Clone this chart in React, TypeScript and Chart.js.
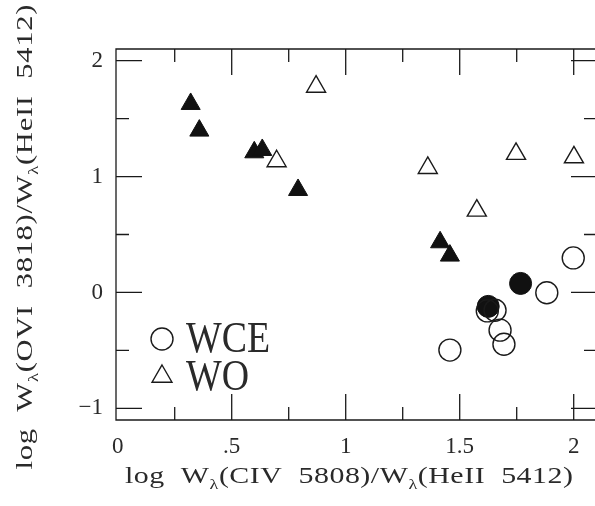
import React, { useEffect, useRef } from 'react';
import { Chart, registerables } from 'chart.js';

Chart.register(...registerables);

// WO stars, filled symbols
const woFilledX = [0.320, 0.358, 0.599, 0.634, 0.791, 1.414, 1.457];
const woFilledY = [1.626, 1.396, 1.209, 1.229, 0.884, 0.433, 0.318];

// WO stars, open symbols
const woOpenX = [0.870, 0.697, 1.360, 1.747, 2.001, 1.575];
const woOpenY = [1.775, 1.132, 1.074, 1.195, 1.166, 0.706];

// WCE stars, open symbols
const wceOpenX = [1.998, 1.882, 1.457, 1.621, 1.655, 1.677, 1.694];
const wceOpenY = [0.298, -0.003, -0.497, -0.159, -0.153, -0.325, -0.446];

// WCE stars, filled symbols
const wceFilledX = [1.625, 1.767];
const wceFilledY = [-0.120, 0.078];

// Axis ticks and their labels
const xMajorTicks = [0, 0.5, 1, 1.5, 2];
const xTickLabels = ['0', '.5', '1', '1.5', '2'];
const xMinorTicks = [0.25, 0.75, 1.25, 1.75];
const yMajorTicks = [-1, 0, 1, 2];
const yTickLabels = ['\u22121', '0', '1', '2'];
const yMinorTicks = [-0.5, 0.5, 1.5];

const xTitleParts = [
  { t: 'log  W', sub: false },
  { t: '\u03bb', sub: true },
  { t: '(CIV  5808)/W', sub: false },
  { t: '\u03bb', sub: true },
  { t: '(HeII  5412)', sub: false },
];
const yTitleParts = [
  { t: 'log  W', sub: false },
  { t: '\u03bb', sub: true },
  { t: '(OVI  3818)/W', sub: false },
  { t: '\u03bb', sub: true },
  { t: '(HeII  5412)', sub: false },
];

const legendItems = [
  { label: 'WCE', shape: 'circle' },
  { label: 'WO', shape: 'triangle' },
];

const FONT = '"Liberation Serif", "Times New Roman", serif';
const INK = '#1a1a1a';
const TEXT = '#2a2a2a';

const toPoints = (xs: number[], ys: number[]) => xs.map((x, i) => ({ x, y: ys[i] }));

// Draws a string glyph by glyph, widened horizontally and spread over a given width.
function drawSpaced(
  ctx: CanvasRenderingContext2D,
  parts: { t: string; sub: boolean }[],
  cx: number,
  baseline: number,
  width: number,
  size: number,
  stretch: number
) {
  const glyphs: { ch: string; sub: boolean; w: number }[] = [];
  const mainFont = `${size}px ${FONT}`;
  const subFont = `${Math.round(size * 0.6)}px ${FONT}`;
  parts.forEach((p) => {
    for (const ch of p.t) {
      ctx.font = p.sub ? subFont : mainFont;
      glyphs.push({ ch, sub: p.sub, w: ctx.measureText(ch).width * stretch });
    }
  });
  const natural = glyphs.reduce((s, g) => s + g.w, 0);
  const gap = (width - natural) / (glyphs.length - 1);
  let x = cx - width / 2;
  ctx.textAlign = 'left';
  ctx.textBaseline = 'alphabetic';
  glyphs.forEach((g) => {
    ctx.font = g.sub ? subFont : mainFont;
    ctx.save();
    ctx.translate(x, baseline + (g.sub ? size * 0.25 : 0));
    ctx.scale(stretch, 1);
    ctx.fillText(g.ch, 0, 0);
    ctx.restore();
    x += g.w + gap;
  });
}

const framePlugin = {
  id: 'frameAndTicks',
  beforeDatasetsDraw(chart: any) {
    const { ctx, chartArea } = chart;
    const { left, right, top, bottom } = chartArea;
    const xs = chart.scales.x;
    const ys = chart.scales.y;
    const edge = right + 2;
    const major = 26;
    const minor = 13;
    ctx.save();
    ctx.strokeStyle = INK;
    ctx.lineWidth = 1.3;
    ctx.beginPath();
    ctx.moveTo(edge, top);
    ctx.lineTo(left, top);
    ctx.lineTo(left, bottom);
    ctx.lineTo(edge, bottom);
    const vTick = (v: number, len: number) => {
      const p = xs.getPixelForValue(v);
      if (p - left < 4) return;
      ctx.moveTo(p, bottom);
      ctx.lineTo(p, bottom - len);
      ctx.moveTo(p, top);
      ctx.lineTo(p, top + len);
    };
    const hTick = (v: number, len: number) => {
      const p = ys.getPixelForValue(v);
      ctx.moveTo(left, p);
      ctx.lineTo(left + len, p);
      ctx.moveTo(edge, p);
      ctx.lineTo(edge - len, p);
    };
    xMajorTicks.forEach((v) => vTick(v, major));
    xMinorTicks.forEach((v) => vTick(v, minor));
    yMajorTicks.forEach((v) => hTick(v, major));
    yMinorTicks.forEach((v) => hTick(v, minor));
    ctx.stroke();
    ctx.restore();
  },
  afterDraw(chart: any) {
    const { ctx, chartArea } = chart;
    ctx.save();
    ctx.fillStyle = TEXT;
    drawSpaced(ctx, xTitleParts, 349, 483, 448, 23, 1.3);
    ctx.translate(32, 237);
    ctx.rotate(-Math.PI / 2);
    drawSpaced(ctx, yTitleParts, 0, 0, 465, 23, 1.33);
    ctx.restore();

    // in-plot legend
    ctx.save();
    ctx.strokeStyle = INK;
    ctx.fillStyle = TEXT;
    ctx.lineWidth = 1.4;
    const mx = chartArea.left + 46;
    legendItems.forEach((item, i) => {
      const cy = 339 + i * 37.5;
      ctx.beginPath();
      if (item.shape === 'circle') {
        ctx.arc(mx, cy, 11, 0, Math.PI * 2);
      } else {
        const r = 11.5;
        ctx.moveTo(mx, cy - r);
        ctx.lineTo(mx + r * Math.sin((2 * Math.PI) / 3), cy - r * Math.cos((2 * Math.PI) / 3));
        ctx.lineTo(mx + r * Math.sin((4 * Math.PI) / 3), cy - r * Math.cos((4 * Math.PI) / 3));
        ctx.closePath();
      }
      ctx.stroke();
      ctx.save();
      ctx.translate(chartArea.left + 70, cy + 13);
      ctx.scale(0.86, 1);
      ctx.font = `44px ${FONT}`;
      ctx.textAlign = 'left';
      ctx.textBaseline = 'alphabetic';
      ctx.fillText(item.label, 0, 0);
      ctx.restore();
    });
    ctx.restore();
  },
};

export default function App() {
  const canvasRef = useRef<HTMLCanvasElement | null>(null);

  useEffect(() => {
    const canvas = canvasRef.current;
    if (!canvas) return;
    const openStyle = {
      backgroundColor: 'rgba(0,0,0,0)',
      borderColor: INK,
      borderWidth: 1.4,
    };
    const filledStyle = {
      backgroundColor: '#111',
      borderColor: '#111',
      borderWidth: 1,
    };
    const chart = new Chart(canvas, {
      type: 'scatter',
      data: {
        datasets: [
          { label: 'WCE', data: toPoints(wceOpenX, wceOpenY), pointStyle: 'circle', pointRadius: 11, ...openStyle },
          { label: 'WCE', data: toPoints(wceFilledX, wceFilledY), pointStyle: 'circle', pointRadius: 11, ...filledStyle },
          { label: 'WO', data: toPoints(woOpenX, woOpenY), pointStyle: 'triangle', pointRadius: 11, ...openStyle },
          { label: 'WO', data: toPoints(woFilledX, woFilledY), pointStyle: 'triangle', pointRadius: 11, ...filledStyle },
        ],
      },
      options: {
        animation: false,
        responsive: false,
        devicePixelRatio: 1,
        layout: { autoPadding: false, padding: { top: 49, right: 0, bottom: 0, left: 0 } },
        plugins: {
          legend: { display: false },
          tooltip: { enabled: false },
        },
        scales: {
          x: {
            type: 'linear',
            min: -0.0075,
            max: 2.0934,
            grid: { display: false, drawTicks: false },
            border: { display: false },
            afterFit: (s: any) => {
              s.height = 86;
              s.paddingLeft = 0;
              s.paddingRight = 0;
            },
            afterBuildTicks: (s: any) => { s.ticks = xMajorTicks.map((v) => ({ value: v })); },
            ticks: {
              padding: 13,
              maxRotation: 0,
              autoSkip: false,
              color: TEXT,
              font: { family: FONT, size: 23 },
              callback: (v: any) => {
                const i = xMajorTicks.indexOf(Number(v));
                return i >= 0 ? xTickLabels[i] : '';
              },
            },
          },
          y: {
            type: 'linear',
            min: -1.1,
            max: 2.1,
            grid: { display: false, drawTicks: false },
            border: { display: false },
            afterFit: (s: any) => {
              s.width = 116;
              s.paddingTop = 0;
              s.paddingBottom = 0;
            },
            afterBuildTicks: (s: any) => { s.ticks = yMajorTicks.map((v) => ({ value: v })); },
            ticks: {
              padding: 13,
              autoSkip: false,
              color: TEXT,
              font: { family: FONT, size: 23 },
              callback: (v: any) => {
                const i = yMajorTicks.indexOf(Number(v));
                return i >= 0 ? yTickLabels[i] : '';
              },
            },
          },
        },
      },
      plugins: [framePlugin],
    } as any);
    return () => chart.destroy();
  }, []);

  return (
    <div style={{ position: 'fixed', left: 0, top: 0, width: 595, height: 506, background: '#fff' }}>
      <canvas ref={canvasRef} width={595} height={506} style={{ display: 'block' }} />
    </div>
  );
}
